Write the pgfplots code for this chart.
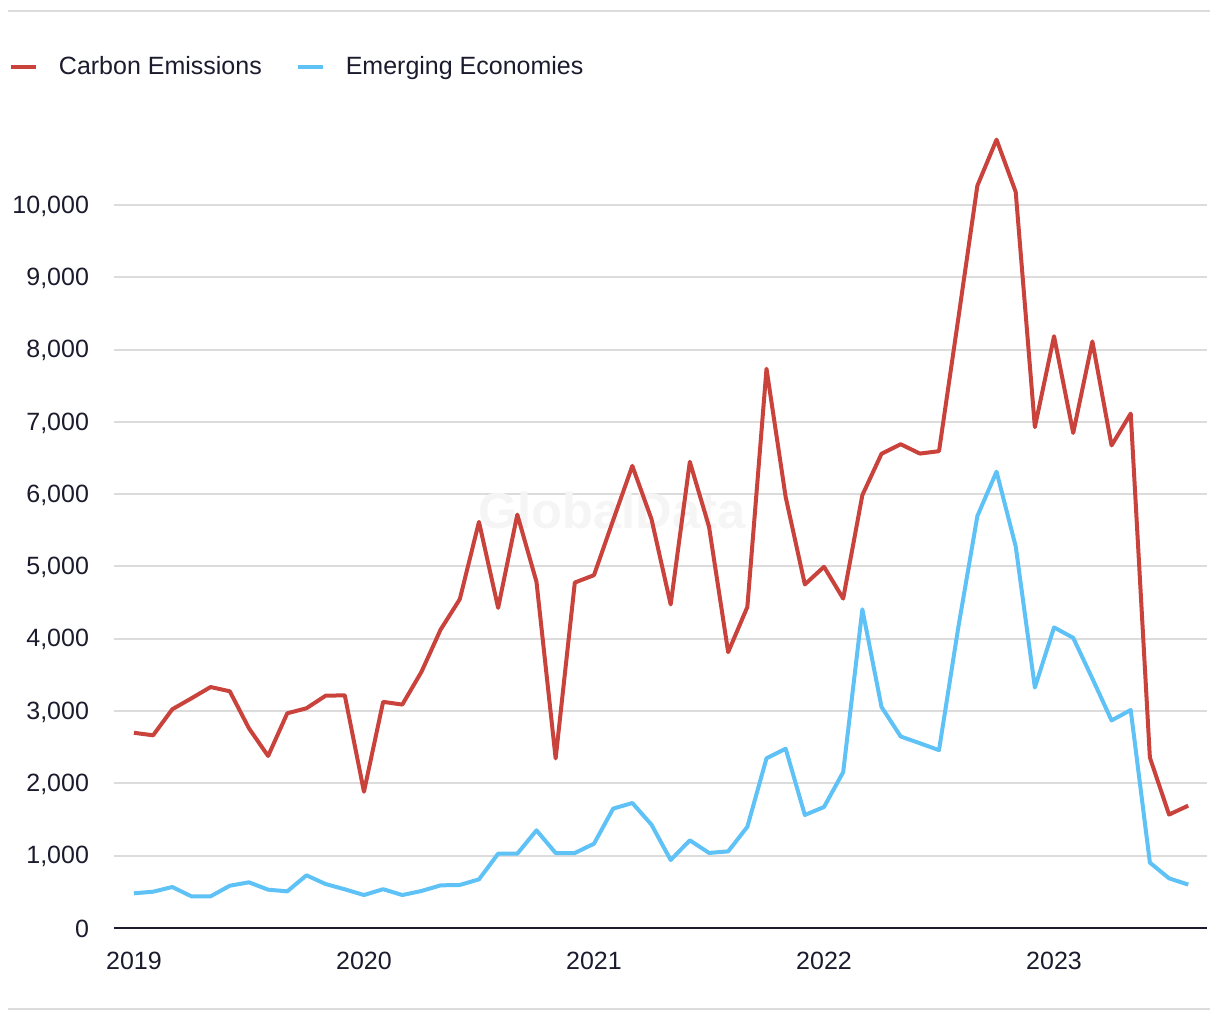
\documentclass[border=0pt]{standalone}
\usepackage{fontspec}
\setmainfont{Liberation Sans}
\usepackage{pgfplots}
\pgfplotsset{compat=1.18}
\definecolor{cred}{HTML}{C9423C}
\definecolor{cblue}{HTML}{5EC2F7}
\definecolor{cnavy}{HTML}{1B1B2E}
\definecolor{cgrid}{HTML}{DCDCDC}
\begin{document}
\begin{tikzpicture}
\useasboundingbox (0pt,0pt) rectangle (610pt,-510pt);
\draw[cgrid, line width=1pt] (4pt,-5.5pt) -- (605pt,-5.5pt);
\draw[cgrid, line width=1pt] (4pt,-504.5pt) -- (605pt,-504.5pt);
\begin{axis}[
  at={(57pt,-464pt)}, anchor=south west,
  scale only axis, width=546.5pt, height=433.8pt,
  xmin=-1.04, xmax=55.98, ymin=0, ymax=12000,
  axis x line*=bottom, axis y line*=left,
  x axis line style={draw=cnavy, line width=1pt, -},
  y axis line style={draw=none},
  major tick length=0pt,
  xtick={0,12,24,36,48},
  xticklabels={2019,2020,2021,2022,2023},
  ytick={0,1000,2000,3000,4000,5000,6000,7000,8000,9000,10000},
  scaled y ticks=false,
  /pgf/number format/.cd, 1000 sep={,}, assume math mode=true, /pgfplots/.cd,
  ymajorgrids, grid style={cgrid, line width=1pt},
  tick label style={font=\fontsize{12.5}{15}\selectfont, text=cnavy},
  xticklabel style={yshift=-8.5pt},
  yticklabel style={xshift=-9pt, yshift=-0.5pt},
  legend style={at={(-0.0961,0.99239)}, anchor=west, draw=none, fill=none,
    inner sep=0pt, outer sep=0pt, legend columns=2,
    font=\fontsize{12.5}{15}\selectfont, text=cnavy,
    nodes={inner sep=0pt},
    /tikz/every odd column/.append style={column sep=10.5pt},
    /tikz/every even column/.append style={column sep=17pt}},
  legend image code/.code={\draw[#1, line width=2pt] (0pt,0pt) -- (12.5pt,0pt);},
]
\node[text=black!4, font=\bfseries\fontsize{25.3}{26}\selectfont] at (axis cs:24.94,5781) {GlobalData};
\addplot[cred, line width=2pt, line join=round] coordinates {
(0,2700)(1,2665)(2,3025)(3,3177)(4,3333)(5,3274)(6,2762)(7,2379)(8,2970)(9,3039)
(10,3213)(11,3218)(12,1885)(13,3128)(14,3090)(15,3543)(16,4128)(17,4548)(18,5617)(19,4428)
(20,5718)(21,4788)(22,2345)(23,4778)(24,4880)(25,5640)(26,6392)(27,5655)(28,4475)(29,6448)
(30,5552)(31,3815)(32,4440)(33,7735)(34,5960)(35,4752)(36,4996)(37,4556)(38,5987)(39,6559)
(40,6691)(41,6562)(42,6595)(43,8420)(44,10267)(45,10904)(46,10181)(47,6927)(48,8185)(49,6847)
(50,8113)(51,6674)(52,7115)(53,2357)(54,1569)(55,1692)
};
\addlegendentry{Carbon Emissions}
\addplot[cblue, line width=2pt, line join=round] coordinates {
(0,480)(1,502)(2,567)(3,438)(4,438)(5,585)(6,632)(7,530)(8,507)(9,729)
(10,608)(11,535)(12,456)(13,537)(14,456)(15,512)(16,590)(17,595)(18,673)(19,1028)
(20,1028)(21,1351)(22,1037)(23,1037)(24,1166)(25,1651)(26,1729)(27,1429)(28,940)(29,1213)
(30,1038)(31,1060)(32,1399)(33,2347)(34,2479)(35,1563)(36,1674)(37,2156)(38,4408)(39,3057)
(40,2649)(41,2555)(42,2460)(43,4150)(44,5698)(45,6312)(46,5278)(47,3326)(48,4158)(49,4013)
(50,3450)(51,2871)(52,3015)(53,904)(54,687)(55,600)
};
\addlegendentry{Emerging Economies}
\end{axis}
\end{tikzpicture}
\end{document}
